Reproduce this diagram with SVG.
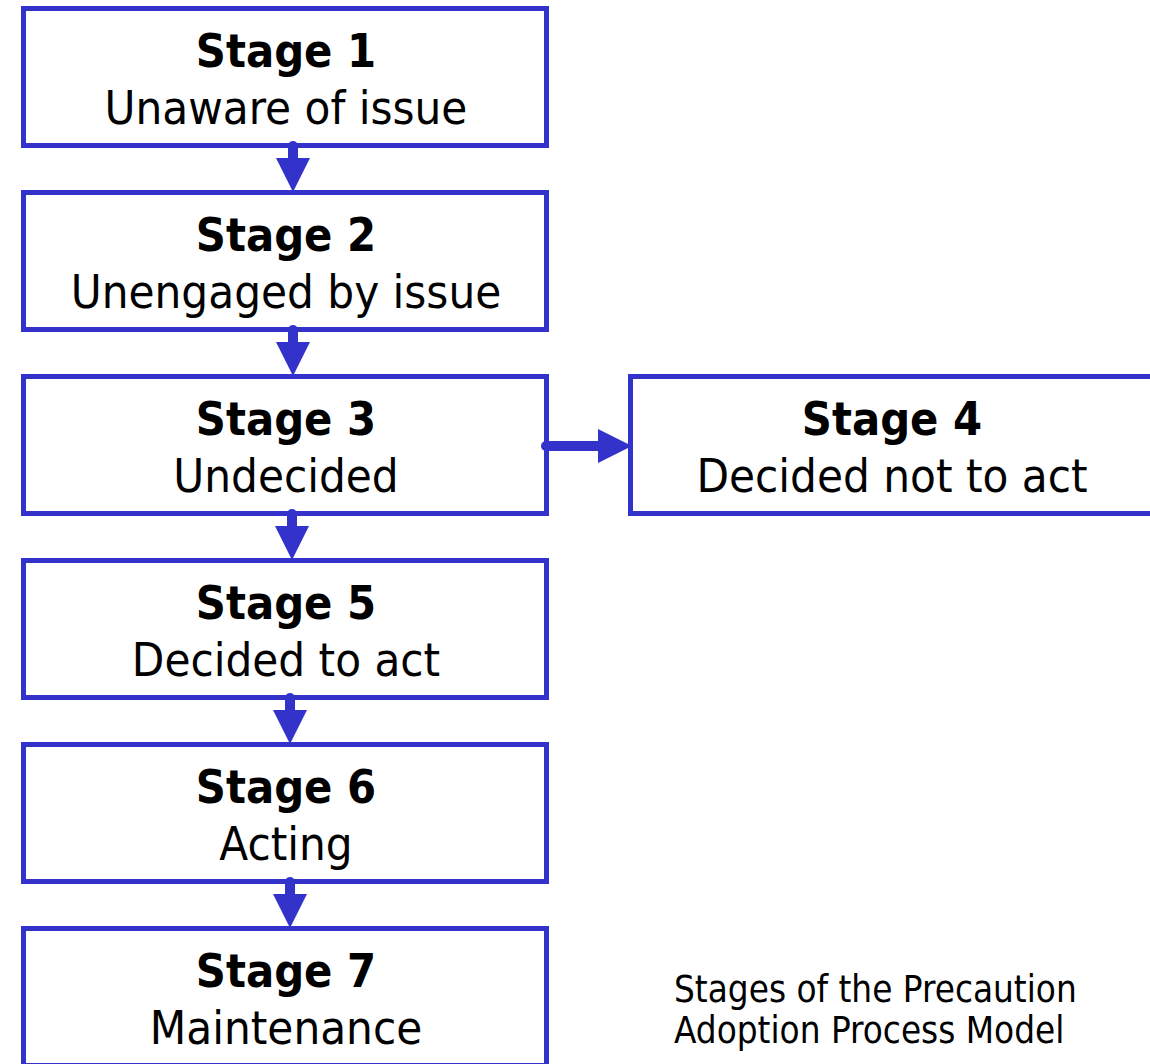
<svg xmlns="http://www.w3.org/2000/svg" width="1150" height="1064" viewBox="0 0 1150 1064">
<style>
.box{fill:#fff;stroke:#3333CC;stroke-width:5}
.t{font-family:"DejaVu Sans Condensed","DejaVu Sans",sans-serif;font-size:47px;text-anchor:middle;fill:#000;font-stretch:condensed}
.b{font-weight:bold;font-size:46.5px}
.cap{font-family:"DejaVu Sans Condensed","DejaVu Sans",sans-serif;font-size:36.5px;fill:#000;font-stretch:condensed}
.sh{stroke:#3333CC;stroke-width:10;stroke-linecap:round;fill:none}
.hd{fill:#3333CC}
</style>
<rect width="1150" height="1064" fill="#fff"/>
<g id="n1"><rect class="box" x="23.5" y="8.5" width="523" height="137"/><text class="t b" x="286" y="67">Stage 1</text><text class="t" x="286" y="124">Unaware of issue</text></g>
<g id="n2"><rect class="box" x="23.5" y="192.5" width="523" height="137"/><text class="t b" x="286" y="251">Stage 2</text><text class="t" x="286" y="308">Unengaged by issue</text></g>
<g id="n3"><rect class="box" x="23.5" y="376.5" width="523" height="137"/><text class="t b" x="286" y="435">Stage 3</text><text class="t" x="286" y="492">Undecided</text></g>
<g id="n4"><rect class="box" x="630.5" y="376.5" width="530" height="137"/><text class="t b" x="892" y="435">Stage 4</text><text class="t" x="892" y="492">Decided not to act</text></g>
<g id="n5"><rect class="box" x="23.5" y="560.5" width="523" height="137"/><text class="t b" x="286" y="619">Stage 5</text><text class="t" x="286" y="676">Decided to act</text></g>
<g id="n6"><rect class="box" x="23.5" y="744.5" width="523" height="137"/><text class="t b" x="286" y="803">Stage 6</text><text class="t" x="286" y="860">Acting</text></g>
<g id="n7"><rect class="box" x="23.5" y="928.5" width="523" height="137"/><text class="t b" x="286" y="987">Stage 7</text><text class="t" x="286" y="1044">Maintenance</text></g>
<g id="caption"><text class="cap" x="674" y="1002">Stages of the Precaution</text><text class="cap" x="674" y="1043">Adoption Process Model</text></g>
<g id="connectors">
<line class="sh" x1="293" y1="146" x2="293" y2="162"/><polygon class="hd" points="276,158 310,158 293,192"/>
<line class="sh" x1="293" y1="330" x2="293" y2="346"/><polygon class="hd" points="276,342 310,342 293,376"/>
<line class="sh" x1="292" y1="514" x2="292" y2="530"/><polygon class="hd" points="275,526 309,526 292,560"/>
<line class="sh" x1="290" y1="698" x2="290" y2="714"/><polygon class="hd" points="273,710 307,710 290,744"/>
<line class="sh" x1="290" y1="882" x2="290" y2="898"/><polygon class="hd" points="273,894 307,894 290,928"/>
<line class="sh" x1="546" y1="446" x2="602" y2="446"/><polygon class="hd" points="598,429 598,463 632,446"/>
</g>
</svg>
